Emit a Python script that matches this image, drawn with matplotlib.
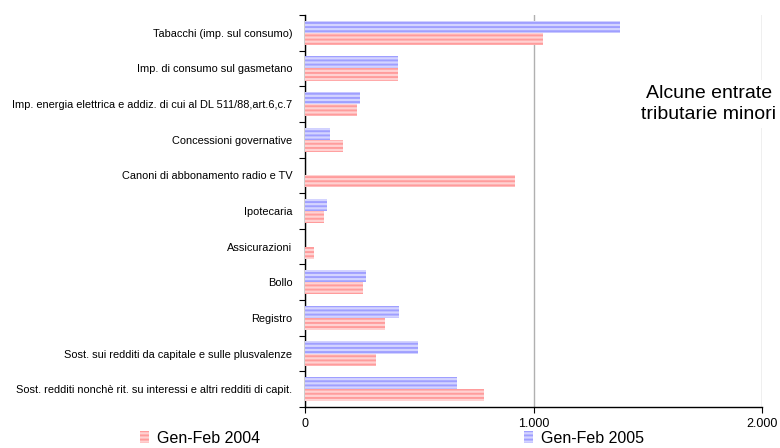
import matplotlib.pyplot as plt
import numpy as np
from matplotlib.patches import Patch

categorie = [
    'Tabacchi (imp. sul consumo)',
    'Imp. di consumo sul gasmetano',
    'Imp. energia elettrica e addiz. di cui al DL 511/88,art.6,c.7',
    'Concessioni governative',
    'Canoni di abbonamento radio e TV',
    'Ipotecaria',
    'Assicurazioni',
    'Bollo',
    'Registro',
    'Sost. sui redditi da capitale e sulle plusvalenze',
    'Sost. redditi nonchè rit. su interessi e altri redditi di capit.',
]
gen_feb_2004 = [1042, 407, 228, 166, 919, 83, 39, 254, 350, 311, 783]
gen_feb_2005 = [1378, 407, 241, 109, 0, 96, 0, 267, 411, 494, 665]

plt.rcParams['font.family'] = ['Liberation Sans', 'DejaVu Sans']
plt.rcParams['hatch.linewidth'] = 1.4

fig = plt.figure(figsize=(7.8, 4.48), dpi=100)
ax = fig.add_axes([305/780, 1-407/448, (762-305)/780, (407-15)/448])

y = np.arange(len(categorie))
h = 0.34

ax.barh(y - h/2, gen_feb_2005, height=h, color='#d4d4ff', edgecolor='#9f9fff',
        hatch='----', linewidth=0, zorder=3)
ax.barh(y + h/2, gen_feb_2004, height=h, color='#ffd2d2', edgecolor='#ff9c9c',
        hatch='----', linewidth=0, zorder=3)

ax.set_xlim(0, 2000)
ax.set_ylim(len(categorie) - 0.5, -0.5)
ax.set_xticks([0, 1000, 2000])
ax.set_xticklabels(['0', '1.000', '2.000'], fontsize=9)
ax.set_yticks(y)
ax.set_yticklabels(categorie, fontsize=7.9)
ax.set_yticks(np.arange(len(categorie) + 1) - 0.5, minor=True)
ax.tick_params(axis='y', which='major', length=0, pad=9)
ax.tick_params(axis='y', which='minor', direction='out', length=4, width=0.8)
ax.tick_params(axis='x', direction='out', length=4, width=0.8, pad=4)

for s in ['top', 'right']:
    ax.spines[s].set_visible(False)
for s in ['left', 'bottom']:
    ax.spines[s].set_linewidth(1.0)

ax.xaxis.grid(True, color='#b0b0b0', linewidth=1.0, zorder=0)
ax.set_axisbelow(True)

fig.text(709/780, 1-104/448, 'Alcune entrate\ntributarie minori', ha='center', va='center',
         fontsize=14, linespacing=1.25,
         bbox=dict(facecolor='white', edgecolor='none', pad=4), zorder=5)

rosso = Patch(facecolor='#ffd2d2', edgecolor='#ff9c9c', hatch='----', linewidth=0)
blu = Patch(facecolor='#d4d4ff', edgecolor='#9f9fff', hatch='----', linewidth=0)
leg1 = fig.legend([rosso], ['Gen-Feb 2004'], loc='center left',
                  bbox_to_anchor=(132/780, 1-438/448), frameon=False, fontsize=11.5,
                  handlelength=0.55, handleheight=0.8, handletextpad=0.5, borderpad=0)
leg2 = fig.legend([blu], ['Gen-Feb 2005'], loc='center left',
                  bbox_to_anchor=(516/780, 1-438/448), frameon=False, fontsize=11.5,
                  handlelength=0.55, handleheight=0.8, handletextpad=0.5, borderpad=0)

plt.savefig('out.png')
